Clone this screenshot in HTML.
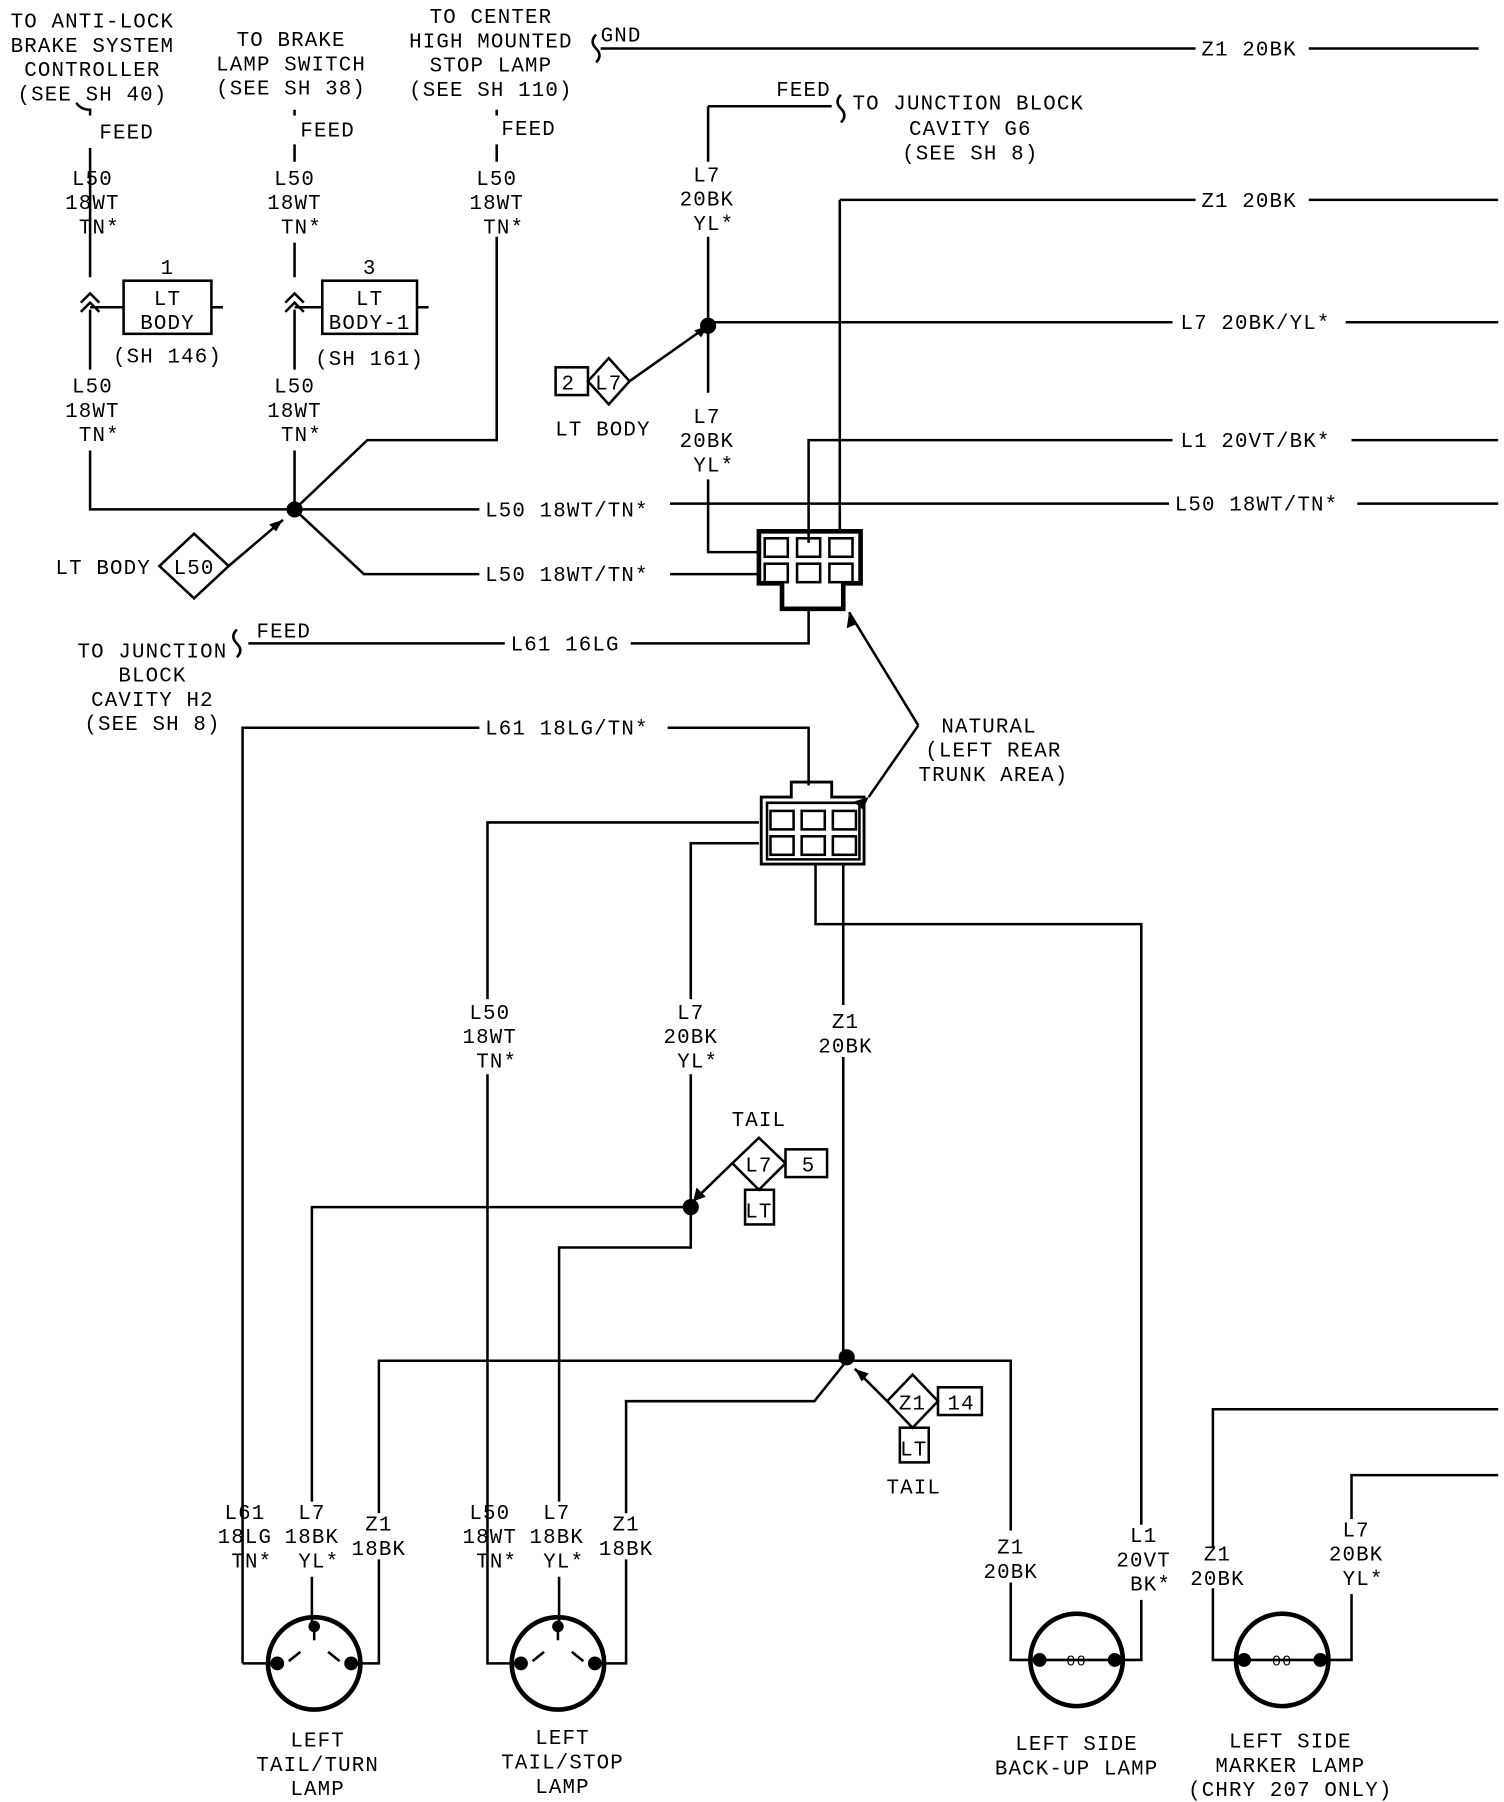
<!DOCTYPE html>
<html><head><meta charset="utf-8"><style>
html,body{margin:0;padding:0;background:#fff;}
svg{display:block;}
text{font-family:"Liberation Mono",monospace;font-size:18px;fill:#000;letter-spacing:1px;}
.m{text-anchor:middle;}
</style></head><body>
<svg width="1504" height="1802" viewBox="0 0 1302 1560" preserveAspectRatio="none" xmlns="http://www.w3.org/2000/svg">
<g stroke="#000" stroke-width="2.2" fill="none">
<path d="M520 42H1035M1133 42H1280"/>
<path d="M516 30q-6 6 0 12q6 6 0 12"/>
<path d="M727 173V460M727 173H1035M1133 173H1297"/>
<path d="M613 279H1015M1165 279H1297"/>
<path d="M700 470V381H1015M1170 381H1297"/>
<path d="M78 128V240M78 268V320M78 390V441H255"/>
<path d="M70 262l8-8l8 8M70 270l8-8l8 8"/>
<path d="M255 125V140M255 210V240M255 268V320M255 390V441"/>
<path d="M247 262l8-8l8 8M247 270l8-8l8 8"/>
<path d="M255 441H415M580 436H1012M1175 436H1297" />
<path d="M255 441L318 381H430V205"/>
<path d="M430 125V140"/>
<path d="M255 441L315 497H415M580 497H657"/>
<path d="M78 100V95q-8 0-12-6M255 100V95M430 100V95"/>
<path d="M613 92H720M613 92V140M613 205V282M613 282V340M613 415V478H657"/>
<path d="M728 82q-6 6 0 12q6 6 0 12"/>
<path d="M545 330L613 282"/>
<path d="M657 460H745V505H730V527H677V505H657Z" stroke-width="4"/>
<rect x="662" y="466" width="20" height="16"/><rect x="690" y="466" width="20" height="16"/><rect x="718" y="466" width="20" height="16"/>
<rect x="662" y="488" width="20" height="16"/><rect x="690" y="488" width="20" height="16"/><rect x="718" y="488" width="20" height="16"/>
<path d="M215 557H437M546 557H700V527"/>
<path d="M205 545q-6 6 0 12q6 6 0 12"/>
<path d="M210 1440V630H415M578 630H700V680"/>
<path d="M685 677H720V690H748V748H659V690H685Z" stroke-width="2.5"/>
<path d="M664 695H744V744H664Z"/>
<rect x="667" y="702" width="20" height="16"/><rect x="694" y="702" width="20" height="16"/><rect x="721" y="702" width="20" height="16"/>
<rect x="667" y="724" width="20" height="16"/><rect x="694" y="724" width="20" height="16"/><rect x="721" y="724" width="20" height="16"/>
<path d="M795 628L735 530M795 628L752 690"/>
<path d="M657 712H422V865M422 930V1440H445"/>
<path d="M657 730H598V865M598 930V1080H484V1300M484 1365V1405"/>
<path d="M730 748V870M730 915V1178"/>
<path d="M706 748V800H988V1320M988 1385V1437H968"/>
<path d="M598 1045H270V1300M270 1365V1405"/>
<path d="M733 1178H328V1310M328 1350V1440H305"/>
<path d="M733 1178H875V1325M875 1370V1437H898"/>
<path d="M733 1178L705 1213H542V1310M542 1350V1440H518"/>
<path d="M238 1440H210"/>
<path d="M1050 1340V1220H1297M1050 1375V1437H1075"/>
<path d="M1170 1315V1277H1297M1170 1380V1437H1145"/>
<path d="M600 1040L634 1007M740 1185L768 1213"/>
<circle cx="272" cy="1440" r="40" stroke-width="4"/>
<circle cx="483" cy="1440" r="40" stroke-width="4"/>
<circle cx="932" cy="1437" r="40" stroke-width="4"/>
<circle cx="1110" cy="1437" r="40" stroke-width="4"/>
<path d="M260 1430l-10 8M284 1430l10 8M272 1420v-10M471 1430l-10 8M495 1430l10 8M483 1420v-10"/>
<path d="M900 1437H965M1077 1437H1143"/>
<rect x="107" y="243" width="76" height="46"/><path d="M183 266H193"/>
<rect x="279" y="243" width="82" height="46"/><path d="M361 266H371"/>
<path d="M78 266H107M255 266H279"/>
<rect x="481" y="318" width="28" height="24"/>
<path d="M527 310L545 330L527 350L509 330Z"/>
<path d="M168 462L198 490L168 518L138 490Z"/>
<path d="M198 490L245 450"/>
<path d="M657 985L680 1007L657 1030L634 1007Z"/>
<rect x="680" y="995" width="36" height="24"/>
<rect x="645" y="1030" width="25" height="30"/>
<path d="M790 1190L812 1213L790 1236L768 1213Z"/>
<rect x="812" y="1201" width="38" height="24"/>
<rect x="779" y="1236" width="25" height="30"/>
</g>
<g fill="#000">
<circle cx="255" cy="441" r="7"/><circle cx="613" cy="282" r="7"/>
<circle cx="598" cy="1045" r="7"/><circle cx="733" cy="1175" r="7"/>
<circle cx="240" cy="1440" r="6"/><circle cx="304" cy="1440" r="6"/><circle cx="272" cy="1408" r="5"/>
<circle cx="451" cy="1440" r="6"/><circle cx="515" cy="1440" r="6"/><circle cx="483" cy="1408" r="5"/>
<circle cx="900" cy="1437" r="6"/><circle cx="965" cy="1437" r="6"/>
<circle cx="1077" cy="1437" r="6"/><circle cx="1143" cy="1437" r="6"/>
<path d="M245 450l-12 4l6 6z"/><path d="M613 282l-12 4l6 6z"/>
<path d="M735 530l-2 14l9-4z"/><path d="M752 690l-13 4l8 7z"/>
<path d="M600 1040l3-12l8 8z"/><path d="M740 1185l12 4l-6 7z"/>
</g>
<g>
<text x="80" y="24" class="m">TO ANTI-LOCK</text>
<text x="80" y="45" class="m">BRAKE SYSTEM</text>
<text x="80" y="66" class="m">CONTROLLER</text>
<text x="80" y="87" class="m">(SEE SH 40)</text>
<text x="86" y="120">FEED</text>
<text x="252" y="40" class="m">TO BRAKE</text>
<text x="252" y="61" class="m">LAMP SWITCH</text>
<text x="252" y="82" class="m">(SEE SH 38)</text>
<text x="260" y="118">FEED</text>
<text x="425" y="20" class="m">TO CENTER</text>
<text x="425" y="41" class="m">HIGH MOUNTED</text>
<text x="425" y="62" class="m">STOP LAMP</text>
<text x="425" y="83" class="m">(SEE SH 110)</text>
<text x="434" y="117">FEED</text>
<text x="520" y="36">GND</text>
<text x="1040" y="48">Z1 20BK</text>
<text x="1040" y="179">Z1 20BK</text>
<text x="1022" y="285">L7 20BK/YL*</text>
<text x="1022" y="387">L1 20VT/BK*</text>
<text x="1017" y="442">L50 18WT/TN*</text>
<text x="420" y="447">L50 18WT/TN*</text>
<text x="420" y="503">L50 18WT/TN*</text>
<text x="442" y="563">L61 16LG</text>
<text x="420" y="636">L61 18LG/TN*</text>
<text x="672" y="83">FEED</text>
<text x="738" y="95">TO JUNCTION BLOCK</text>
<text x="840" y="117" class="m">CAVITY G6</text>
<text x="840" y="138" class="m">(SEE SH 8)</text>
<text x="80" y="160" class="m">L50</text><text x="80" y="181" class="m">18WT</text><text x="86" y="202" class="m">TN*</text>
<text x="255" y="160" class="m">L50</text><text x="255" y="181" class="m">18WT</text><text x="261" y="202" class="m">TN*</text>
<text x="430" y="160" class="m">L50</text><text x="430" y="181" class="m">18WT</text><text x="436" y="202" class="m">TN*</text>
<text x="612" y="157" class="m">L7</text><text x="612" y="178" class="m">20BK</text><text x="618" y="199" class="m">YL*</text>
<text x="80" y="340" class="m">L50</text><text x="80" y="361" class="m">18WT</text><text x="86" y="382" class="m">TN*</text>
<text x="255" y="340" class="m">L50</text><text x="255" y="361" class="m">18WT</text><text x="261" y="382" class="m">TN*</text>
<text x="612" y="366" class="m">L7</text><text x="612" y="387" class="m">20BK</text><text x="618" y="408" class="m">YL*</text>
<text x="145" y="237" class="m">1</text><text x="145" y="264" class="m">LT</text><text x="145" y="285" class="m">BODY</text>
<text x="145" y="314" class="m">(SH 146)</text>
<text x="320" y="237" class="m">3</text><text x="320" y="264" class="m">LT</text><text x="320" y="285" class="m">BODY-1</text>
<text x="320" y="316" class="m">(SH 161)</text>
<text x="492" y="337" class="m">2</text><text x="527" y="337" class="m">L7</text>
<text x="522" y="377" class="m">LT BODY</text>
<text x="48" y="497">LT BODY</text><text x="168" y="497" class="m">L50</text>
<text x="222" y="552">FEED</text>
<text x="132" y="569" class="m">TO JUNCTION</text>
<text x="132" y="590" class="m">BLOCK</text>
<text x="132" y="611" class="m">CAVITY H2</text>
<text x="132" y="632" class="m">(SEE SH 8)</text>
<text x="815" y="634">NATURAL</text>
<text x="860" y="655" class="m">(LEFT REAR</text>
<text x="860" y="676" class="m">TRUNK AREA)</text>
<text x="424" y="882" class="m">L50</text><text x="424" y="903" class="m">18WT</text><text x="430" y="924" class="m">TN*</text>
<text x="598" y="882" class="m">L7</text><text x="598" y="903" class="m">20BK</text><text x="604" y="924" class="m">YL*</text>
<text x="732" y="890" class="m">Z1</text><text x="732" y="911" class="m">20BK</text>
<text x="657" y="975" class="m">TAIL</text>
<text x="657" y="1014" class="m">L7</text><text x="700" y="1014" class="m">5</text><text x="657" y="1054" class="m">LT</text>
<text x="790" y="1220" class="m">Z1</text><text x="832" y="1220" class="m">14</text><text x="791" y="1260" class="m">LT</text>
<text x="791" y="1293" class="m">TAIL</text>
<text x="212" y="1315" class="m">L61</text><text x="212" y="1336" class="m">18LG</text><text x="218" y="1357" class="m">TN*</text>
<text x="270" y="1315" class="m">L7</text><text x="270" y="1336" class="m">18BK</text><text x="276" y="1357" class="m">YL*</text>
<text x="328" y="1325" class="m">Z1</text><text x="328" y="1346" class="m">18BK</text>
<text x="424" y="1315" class="m">L50</text><text x="424" y="1336" class="m">18WT</text><text x="430" y="1357" class="m">TN*</text>
<text x="482" y="1315" class="m">L7</text><text x="482" y="1336" class="m">18BK</text><text x="488" y="1357" class="m">YL*</text>
<text x="542" y="1325" class="m">Z1</text><text x="542" y="1346" class="m">18BK</text>
<text x="875" y="1345" class="m">Z1</text><text x="875" y="1366" class="m">20BK</text>
<text x="990" y="1335" class="m">L1</text><text x="990" y="1356" class="m">20VT</text><text x="996" y="1377" class="m">BK*</text>
<text x="1054" y="1351" class="m">Z1</text><text x="1054" y="1372" class="m">20BK</text>
<text x="1174" y="1330" class="m">L7</text><text x="1174" y="1351" class="m">20BK</text><text x="1180" y="1372" class="m">YL*</text>
<text x="932" y="1442" class="m" style="font-size:13px">00</text>
<text x="1110" y="1442" class="m" style="font-size:13px">00</text>
<text x="275" y="1512" class="m">LEFT</text><text x="275" y="1533" class="m">TAIL/TURN</text><text x="275" y="1554" class="m">LAMP</text>
<text x="487" y="1510" class="m">LEFT</text><text x="487" y="1531" class="m">TAIL/STOP</text><text x="487" y="1552" class="m">LAMP</text>
<text x="932" y="1515" class="m">LEFT SIDE</text><text x="932" y="1536" class="m">BACK-UP LAMP</text>
<text x="1117" y="1513" class="m">LEFT SIDE</text><text x="1117" y="1534" class="m">MARKER LAMP</text><text x="1117" y="1555" class="m">(CHRY 207 ONLY)</text>
</g>
</svg>
</body></html>
